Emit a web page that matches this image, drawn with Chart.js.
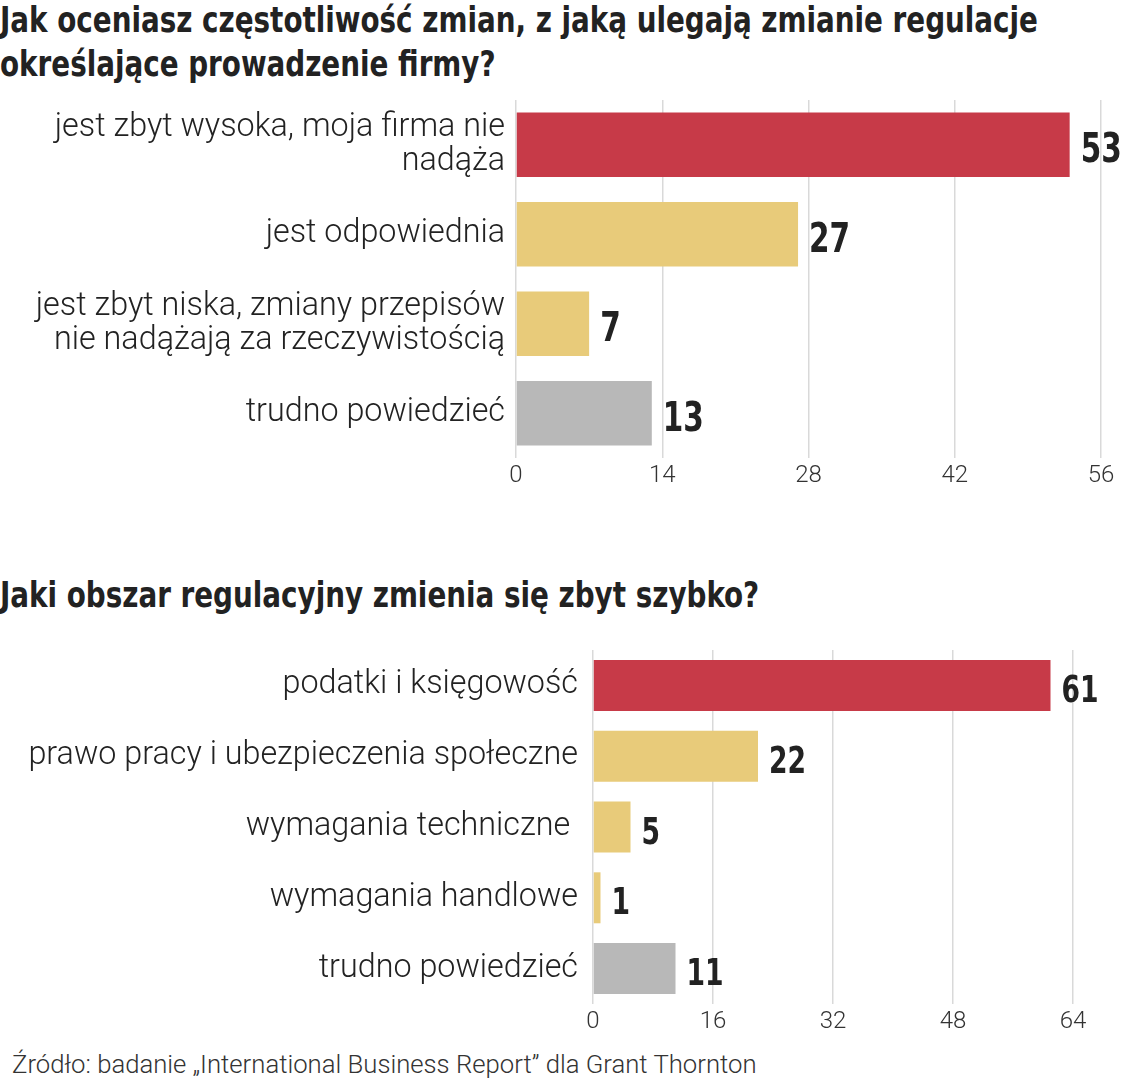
<!DOCTYPE html>
<html lang="pl">
<head>
<meta charset="utf-8">
<script src="https://cdn.jsdelivr.net/npm/chart.js@4"></script>
<style>
  html, body { margin: 0; padding: 0; background: #fff; }
  body { width: 1124px; height: 1080px; position: relative; overflow: hidden; }
  .title {
    position: absolute; left: 0; margin: 0; white-space: nowrap;
    font-family: 'DejaVu Sans Condensed', 'DejaVu Sans', sans-serif;
    font-weight: bold; font-size: 36px; color: #222; line-height: 44px;
    transform: scaleX(0.858); transform-origin: left top;
  }
  #title1 { top: -2px; }
  #title2 { top: 573px; }
  .box { position: absolute; left: 0; width: 1124px; }
  #box1 { top: 90px; height: 408px; }
  #box2 { top: 640px; height: 404px; }
  #source {
    position: absolute; left: 12px; top: 1049px; white-space: nowrap;
    font-family: Roboto, sans-serif; font-weight: 300;
    font-size: 25.7px; color: #333;
  }
</style>
</head>
<body>
<div class="title" id="title1">Jak oceniasz częstotliwość zmian, z jaką ulegają zmianie regulacje<br>określające prowadzenie firmy?</div>
<div class="box" id="box1"><canvas id="chart1"></canvas></div>
<div class="title" id="title2">Jaki obszar regulacyjny zmienia się zbyt szybko?</div>
<div class="box" id="box2"><canvas id="chart2"></canvas></div>
<div id="source">Źródło: badanie „International Business Report” dla Grant Thornton</div>

<script>
// dane - wykres 1
const labels1 = [
  ["jest zbyt wysoka, moja firma nie", "nadąża"],
  "jest odpowiednia",
  ["jest zbyt niska, zmiany przepisów", "nie nadążają za rzeczywistością"],
  "trudno powiedzieć"
];
const values1 = [53, 27, 7, 13];
const colors1 = ["#c73a48", "#e8cb7a", "#e8cb7a", "#b8b8b8"];
const axisMax1 = 56;
const axisStep1 = 14;

// dane - wykres 2
const labels2 = [
  "podatki i księgowość",
  "prawo pracy i ubezpieczenia społeczne",
  "wymagania techniczne ",
  "wymagania handlowe",
  "trudno powiedzieć"
];
const values2 = [61, 22, 5, 1, 11];
const colors2 = ["#c73a48", "#e8cb7a", "#e8cb7a", "#e8cb7a", "#b8b8b8"];
const axisMax2 = 64;
const axisStep2 = 16;

const LIGHT = "Roboto, sans-serif";
const BOLD = "'DejaVu Sans Condensed', 'DejaVu Sans', sans-serif";

// etykiety z wartościami na końcu słupków (pogrubione, zwężone)
const valueLabels = {
  id: "valueLabels",
  afterDatasetsDraw(chart, args, opts) {
    const ctx = chart.ctx;
    const meta = chart.getDatasetMeta(0);
    const data = chart.data.datasets[0].data;
    ctx.save();
    ctx.font = "bold " + opts.size + "px " + BOLD;
    ctx.fillStyle = "#222";
    ctx.textAlign = "left";
    ctx.textBaseline = "alphabetic";
    meta.data.forEach((bar, i) => {
      ctx.save();
      ctx.translate(bar.x + 11, bar.y + opts.shift);
      ctx.scale(0.8, 1);
      ctx.fillText(String(data[i]), 0, 0);
      ctx.restore();
    });
    ctx.restore();
  }
};

function makeChart(canvasId, labels, values, colors, max, step, leftWidth, padRight, labelPad, valSize, valShift) {
  return new Chart(document.getElementById(canvasId), {
    type: "bar",
    data: {
      labels: labels,
      datasets: [{
        data: values,
        backgroundColor: colors,
        borderWidth: 0,
        barPercentage: 0.72,
        categoryPercentage: 1.0
      }]
    },
    options: {
      indexAxis: "y",
      responsive: true,
      maintainAspectRatio: false,
      animation: false,
      layout: { padding: { top: 10, right: padRight, bottom: 0, left: 0 } },
      plugins: {
        legend: { display: false },
        tooltip: { enabled: false },
        valueLabels: { size: valSize, shift: valShift }
      },
      scales: {
        x: {
          min: 0,
          max: max,
          afterFit(scale) { scale.height = 40; },
          ticks: {
            stepSize: step,
            padding: 4,
            color: "#333",
            font: { family: LIGHT, size: 24, weight: 300 }
          },
          grid: { color: "#d9d9d9", lineWidth: 1.5, drawTicks: false },
          border: { display: false }
        },
        y: {
          afterFit(scale) {
            scale.width = leftWidth;
            // etykiety wieloliniowe nie mają odpychać obszaru wykresu
            scale.paddingTop = 0;
            scale.paddingBottom = 0;
          },
          ticks: {
            padding: labelPad,
            color: "#222",
            font: { family: LIGHT, size: 32.3, weight: 300, lineHeight: 1.05 }
          },
          grid: { display: false, drawTicks: false },
          border: { display: false }
        }
      }
    },
    plugins: [valueLabels]
  });
}

makeChart("chart1", labels1, values1, colors1, axisMax1, axisStep1, 516, 23, 11, 41, 17.5);
makeChart("chart2", labels2, values2, colors2, axisMax2, axisStep2, 593, 51, 15, 37, 16.5);
</script>
</body>
</html>
